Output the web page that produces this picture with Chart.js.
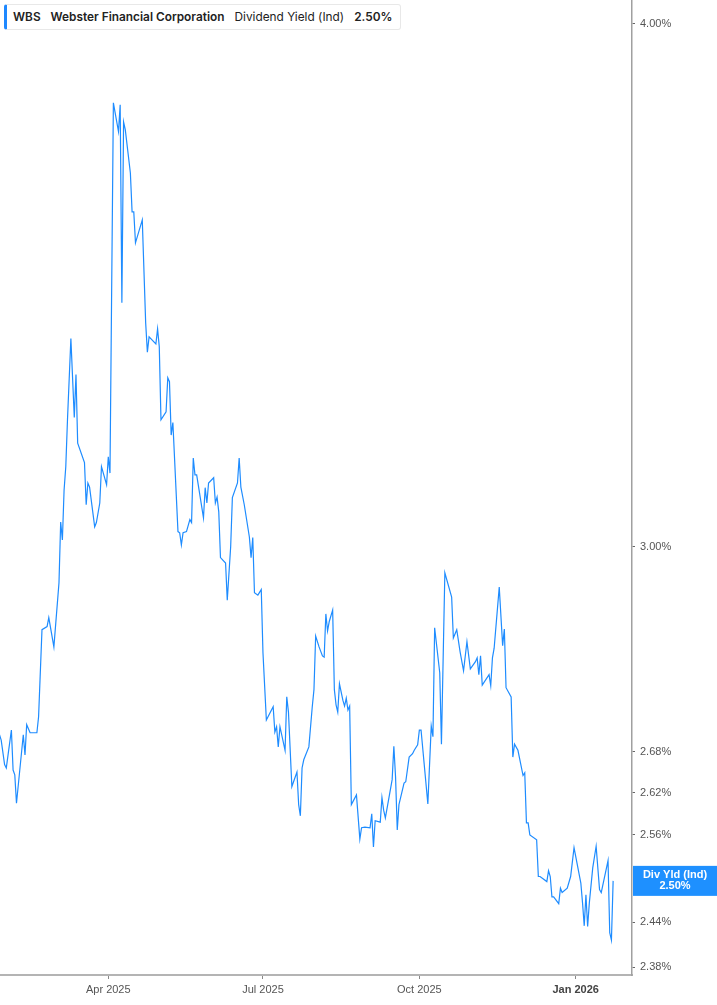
<!DOCTYPE html>
<html>
<head>
<meta charset="utf-8">
<script src="https://cdn.jsdelivr.net/npm/chart.js@4.4.1/dist/chart.umd.min.js"></script>
<style>
html, body { margin: 0; padding: 0; background: #fff; }
#wrap { position: relative; width: 717px; height: 1005px; }
#legend {
  position: absolute; left: 4px; top: 4px; height: 26px; width: 397px;
  background: #fff; border: 1px solid #e8e8e8; border-left: 3px solid #1e88ff;
  border-radius: 3px; box-sizing: border-box;
  font-family: Inter, "Noto Sans", sans-serif; font-size: 11.85px; color: #222;
  line-height: 24px; padding-left: 6px; white-space: nowrap;
}
#legend span { margin-right: 10px; }
#legend .b { font-weight: 600; }
</style>
</head>
<body>
<div id="wrap">
  <canvas id="chart-yield"></canvas>
  <div id="legend"><span class="b">WBS</span><span class="b">Webster Financial Corporation</span><span>Dividend Yield (Ind)</span><span class="b">2.50%</span></div>
</div>
<script>
// days counted from 2025-01-01
var days = [
  26,27,29,30,33,34,35,36,40,41,
  42,44,48,49,51,54,55,58,61,62,
  63,64,65,66,68,70,71,72,76,77,
  78,79,82,83,85,86,89,90,91,93,
  96,97,98,99,100,103,104,105,106,110,
  112,113,114,118,119,120,121,124,125,126,
  127,128,131,132,133,134,136,138,139,140,
  141,142,146,147,148,149,152,153,154,155,
  156,159,160,162,163,166,167,168,170,173,
  174,175,176,178,180,181,183,187,188,189,
  190,191,194,195,196,198,201,202,203,204,
  205,208,210,211,212,214,216,217,218,219,
  220,222,223,224,225,226,228,229,230,231,
  232,233,236,238,239,241,244,245,246,247,
  250,251,252,253,257,258,259,260,261,264,
  265,267,269,270,272,273,274,278,280,281,
  282,285,286,288,292,293,295,297,299,301,
  303,306,307,308,309,310,314,315,316,317,
  320,322,323,324,327,328,329,331,334,335,
  336,337,338,342,343,344,348,349,350,351,
  352,355,356,357,360,362,364,368,369,370,
  371,372,373,375,377,379,380,384,385,386,
  387
];

// dividend yield (%)
var yieldPct = [
  2.705,2.697,2.661,2.656,2.712,2.653,2.646,2.605,2.705,2.675,
  2.720,2.708,2.708,2.732,2.866,2.871,2.885,2.839,2.941,3.041,
  3.011,3.095,3.135,3.217,3.364,3.221,3.298,3.176,3.142,3.070,
  3.107,3.100,3.033,3.040,3.073,3.135,3.104,3.152,3.124,3.830,
  3.770,3.826,3.431,3.790,3.774,3.685,3.607,3.607,3.546,3.591,
  3.393,3.339,3.367,3.354,3.382,3.349,3.217,3.231,3.292,3.285,
  3.190,3.212,3.025,3.023,3.003,3.023,3.025,3.045,3.040,3.150,
  3.121,3.121,3.048,3.099,3.073,3.107,3.116,3.073,3.083,3.058,
  2.982,2.973,2.913,3.000,3.082,3.107,3.150,3.100,3.070,3.016,
  2.982,3.015,2.925,2.921,2.930,2.830,2.727,2.747,2.709,2.717,
  2.687,2.717,2.682,2.762,2.739,2.629,2.650,2.603,2.587,2.656,
  2.668,2.687,2.747,2.773,2.856,2.839,2.825,2.823,2.891,2.864,
  2.879,2.897,2.773,2.750,2.739,2.782,2.757,2.748,2.760,2.742,
  2.748,2.603,2.617,2.554,2.570,2.571,2.570,2.590,2.543,2.580,
  2.578,2.613,2.595,2.584,2.639,2.688,2.643,2.567,2.603,2.634,
  2.636,2.672,2.677,2.682,2.690,2.712,2.712,2.604,2.718,2.702,
  2.869,2.799,2.691,2.957,2.918,2.853,2.866,2.831,2.802,2.847,
  2.805,2.816,2.822,2.796,2.825,2.780,2.796,2.779,2.822,2.837,
  2.934,2.841,2.867,2.776,2.762,2.672,2.691,2.682,2.645,2.649,
  2.577,2.577,2.560,2.553,2.502,2.502,2.495,2.510,2.502,2.474,
  2.474,2.465,2.486,2.480,2.486,2.502,2.542,2.493,2.466,2.435,
  2.477,2.434,2.466,2.514,2.544,2.484,2.480,2.524,2.426,2.416,
  2.496
];

var tickDays = [90, 181, 273, 365];
var tickLabels = ['Apr 2025', 'Jul 2025', 'Oct 2025', 'Jan 2026'];
var yTicks = [2.38, 2.44, 2.56, 2.62, 2.68, 3.00, 4.00];
var badgeLines = ['Div Yld (Ind)', '2.50%'];

var points = days.map(function (d, i) {
    return { x: d, y: yieldPct[i] };
});

var axisFont = '"Liberation Sans", Arial, sans-serif';

var lastBadge = {
    id: 'lastBadge',
    afterDraw: function (chart) {
        var ctx = chart.ctx;
        var y = chart.scales.y.getPixelForValue(yieldPct[yieldPct.length - 1]);
        var left = chart.chartArea.right + 1;
        var cx = (left + chart.width) / 2;
        ctx.save();
        ctx.fillStyle = '#1e90ff';
        ctx.fillRect(left, y - 15, chart.width - left, 30);
        ctx.fillStyle = '#fff';
        ctx.font = 'bold 11px ' + axisFont;
        ctx.textAlign = 'center';
        ctx.textBaseline = 'middle';
        ctx.fillText(badgeLines[0], cx, y - 6);
        ctx.fillText(badgeLines[1], cx, y + 5);
        ctx.restore();
    }
};

var ctYield = document.getElementById('chart-yield');
var chartYield = new Chart(ctYield, {
    type: 'line',
    data: {
        datasets: [{
            data: points,
            borderColor: '#1e8cff',
            borderWidth: 1.2,
            pointRadius: 0,
            tension: 0,
            fill: false
        }]
    },
    options: {
        responsive: true,
        maintainAspectRatio: false,
        animation: { duration: 0 },
        layout: { padding: 0, autoPadding: false },
        plugins: {
            legend: { display: false },
            tooltip: { enabled: false }
        },
        scales: {
            x: {
                type: 'linear',
                min: 26.3,
                max: 398.1,
                afterBuildTicks: function (scale) {
                    scale.ticks = tickDays.map(function (v) { return { value: v }; });
                },
                afterFit: function (scale) {
                    scale.height = 30;
                    scale.paddingLeft = 0;
                    scale.paddingRight = 0;
                },
                border: { color: '#b4b4b4', width: 2 },
                grid: { drawOnChartArea: false, tickLength: 4, color: '#888' },
                ticks: {
                    autoSkip: false,
                    maxRotation: 0,
                    padding: 4,
                    color: function (c) { return c.tick && c.tick.value === 365 ? '#444' : '#555'; },
                    font: function (c) {
                        var bold = c.tick && c.tick.value === 365;
                        return { family: axisFont, size: 11, weight: bold ? 'bold' : 'normal' };
                    },
                    callback: function (v) {
                        var i = tickDays.indexOf(v);
                        return i >= 0 ? tickLabels[i] : '';
                    }
                }
            },
            y: {
                type: 'logarithmic',
                position: 'right',
                min: 2.370,
                max: 4.053,
                afterBuildTicks: function (scale) {
                    scale.ticks = yTicks.map(function (v) { return { value: v }; });
                },
                afterFit: function (scale) {
                    scale.width = 85;
                    scale.paddingTop = 0;
                    scale.paddingBottom = 0;
                },
                border: { color: '#a0a0a0', width: 1.5 },
                grid: { drawOnChartArea: false, tickLength: 3, color: '#666' },
                ticks: {
                    padding: 5,
                    color: '#555',
                    font: { family: axisFont, size: 11 },
                    callback: function (v) { return Number(v).toFixed(2) + '%'; }
                }
            }
        }
    },
    plugins: [lastBadge]
});
</script>
</body>
</html>
